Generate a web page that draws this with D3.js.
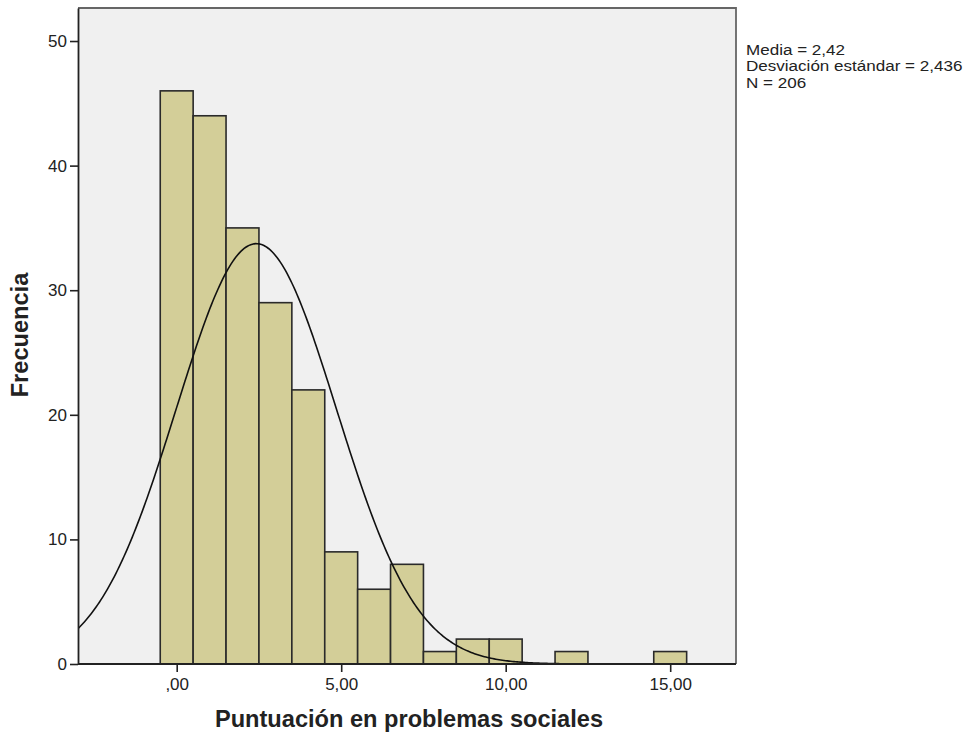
<!DOCTYPE html>
<html>
<head>
<meta charset="utf-8">
<script src="https://cdn.jsdelivr.net/npm/d3@7"></script>
<style>
  body { margin: 0; background: #fff; font-family: "Liberation Sans", Arial, sans-serif; }
  svg text { fill: #222; }
</style>
</head>
<body>
<svg id="chart" width="973" height="742"></svg>
<script>
// histogram bins (centre of each bin, width 1)
var binCenters = [0, 1, 2, 3, 4, 5, 6, 7, 8, 9, 10, 11, 12, 13, 14, 15]
var binCounts  = [46, 44, 35, 29, 22, 9, 6, 8, 1, 2, 2, 0, 1, 0, 0, 1]

var xTicks = [0, 5, 10, 15]
var xTickLabels = [',00', '5,00', '10,00', '15,00']
var yTicks = [0, 10, 20, 30, 40, 50]

var stats = {mean: 2.42, sd: 2.436, n: 206}
var statLines = ['Media = 2,42', 'Desviación estándar = 2,436', 'N = 206']

var svg = d3.select('#chart')
var pLeft = 78, pRight = 736, pTop = 8, pBottom = 664

var x = d3.scaleLinear().domain([-3, 17]).range([pLeft, pRight])
var y = d3.scaleLinear().domain([0, 52.65]).range([pBottom, pTop])

// plot background
svg.append('rect')
  .attr('x', pLeft).attr('y', pTop)
  .attr('width', pRight - pLeft).attr('height', pBottom - pTop)
  .attr('fill', '#f0f0f0')

svg.append('defs').append('clipPath').attr('id', 'plotclip')
  .append('rect')
  .attr('x', pLeft).attr('y', pTop)
  .attr('width', pRight - pLeft).attr('height', pBottom - pTop)

var bins = binCenters.map((c, i) => ({c: c, v: binCounts[i]})).filter(d => d.v > 0)

svg.selectAll('rect.bar').data(bins).enter().append('rect')
  .attr('class', 'bar')
  .attr('x', d => x(d.c - 0.5))
  .attr('y', d => y(d.v))
  .attr('width', d => x(d.c + 0.5) - x(d.c - 0.5))
  .attr('height', d => pBottom - y(d.v))
  .attr('fill', '#d3ce98')
  .attr('stroke', '#2a2a2a')
  .attr('stroke-width', 1.6)

// normal curve from the stated mean / sd / n
var pdf = v => stats.n / (stats.sd * Math.sqrt(2 * Math.PI)) *
  Math.exp(-0.5 * Math.pow((v - stats.mean) / stats.sd, 2))
var curvePts = d3.range(-3, 17.001, 0.05)

svg.append('path')
  .attr('clip-path', 'url(#plotclip)')
  .attr('d', d3.line().x(d => x(d)).y(d => y(pdf(d)))(curvePts))
  .attr('fill', 'none')
  .attr('stroke', '#111')
  .attr('stroke-width', 1.6)

// frame top/right
svg.append('path')
  .attr('d', `M${pLeft},${pTop}H${pRight}V${pBottom}`)
  .attr('fill', 'none').attr('stroke', '#666').attr('stroke-width', 1.8)

// axes
var xAxis = d3.axisBottom(x).tickValues(xTicks)
  .tickFormat((d, i) => xTickLabels[i]).tickSize(8).tickSizeOuter(0).tickPadding(6)
var gx = svg.append('g').attr('transform', `translate(0,${pBottom})`).call(xAxis)

var yAxis = d3.axisLeft(y).tickValues(yTicks).tickSize(8).tickSizeOuter(0).tickPadding(3)
var gy = svg.append('g').attr('transform', `translate(${pLeft},0)`).call(yAxis)

;[gx, gy].forEach(g => {
  g.select('.domain').attr('stroke', '#222').attr('stroke-width', 1.8)
  g.selectAll('.tick line').attr('stroke', '#222').attr('stroke-width', 1.6)
  g.selectAll('.tick text')
    .attr('font-family', '"Liberation Sans", Arial, sans-serif')
    .attr('font-size', 17).attr('fill', '#222')
})
gx.select('.domain').attr('d', `M${pLeft},0H${pRight}`)

// axis titles
svg.append('text')
  .attr('x', 409).attr('y', 727)
  .attr('text-anchor', 'middle')
  .attr('font-size', 23.6).attr('font-weight', 'bold')
  .text('Puntuación en problemas sociales')

svg.append('text')
  .attr('transform', 'translate(28,335) rotate(-90)')
  .attr('text-anchor', 'middle')
  .attr('font-size', 23.6).attr('font-weight', 'bold')
  .text('Frecuencia')

// stats box text (slightly widened, tight line spacing like the original)
var statG = svg.append('g').attr('transform', 'translate(746,0) scale(1.1,1)')
statG.selectAll('text.stat').data(statLines).enter().append('text')
  .attr('class', 'stat')
  .attr('x', 0)
  .attr('y', (d, i) => 55 + i * 16.5)
  .attr('font-size', 15.5)
  .text(d => d)
</script>
</body>
</html>
